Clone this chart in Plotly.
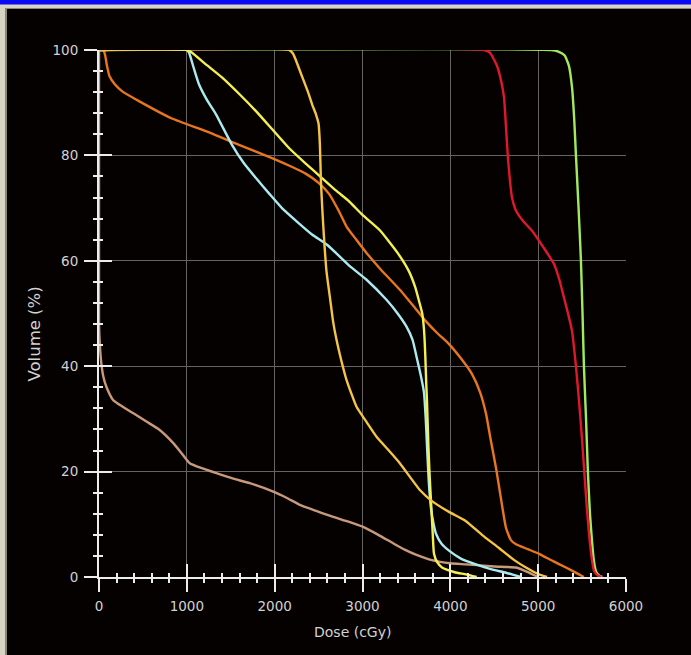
import plotly.graph_objects as go

# ---- data (dose in cGy, volume in %) ----
green_dose = [0, 5150, 5230, 5300, 5350, 5385, 5410, 5430, 5460, 5487, 5505, 5521, 5545, 5566, 5590, 5612, 5635, 5660, 5700, 5730]
green_vol  = [100, 100, 99.7, 99, 97, 93, 87, 80, 70, 60, 50, 40, 30, 20, 12, 7, 3, 1, 0.2, 0]

red_dose = [0, 4383, 4450, 4531, 4580, 4611, 4635, 4656, 4680, 4702, 4748, 4830, 4930, 5066, 5180, 5240, 5294, 5340, 5385, 5430, 5465, 5500, 5522, 5555, 5580, 5610, 5636, 5680, 5720]
red_vol  = [100, 100, 99.5, 97, 94, 91, 85, 79.5, 75, 72, 69.5, 67.5, 65.7, 62.4, 59.4, 56.5, 53, 50, 46.7, 40, 33.4, 26, 20.7, 13, 8, 3.5, 1.2, 0.3, 0]

tan_dose = [0, 0, 10, 27, 50, 84, 160, 270, 387, 540, 691, 846, 940, 1033, 1180, 1337, 1520, 1716, 1985, 2140, 2286, 2480, 2667, 2840, 3007, 3180, 3349, 3480, 3615, 3791, 4000, 4178, 4500, 4748, 4900, 5000]
tan_vol  = [100, 48.2, 44, 40.5, 38, 36.1, 33.6, 32.3, 31.1, 29.5, 27.9, 25.4, 23.5, 21.6, 20.6, 19.7, 18.7, 17.8, 16.2, 15, 13.7, 12.5, 11.4, 10.5, 9.5, 8, 6.4, 5.2, 4.2, 3.2, 2.6, 2.4, 2, 1.8, 0.8, 0]

orange_dose = [0, 50, 70, 91, 120, 180, 262, 455, 831, 1218, 1594, 1970, 2200, 2357, 2500, 2619, 2732, 2818, 2930, 3046, 3200, 3425, 3600, 3723, 3850, 3985, 4120, 4247, 4340, 4406, 4460, 4520, 4580, 4634, 4690, 4748, 4880, 5010, 5170, 5317, 5465, 5520]
orange_vol  = [100, 100, 99, 97, 95, 93.5, 92.2, 90.3, 87, 84.6, 82, 79.5, 77.8, 76.5, 74.8, 72.7, 69.4, 66.5, 64, 61.5, 58.5, 54.5, 51, 48.5, 46.3, 44.2, 41.5, 38.5, 35, 31, 26, 20.7, 14.5, 9.3, 7, 6.2, 5.3, 4.4, 3, 1.8, 0.5, 0]

cyan_dose = [0, 1000, 1025, 1080, 1138, 1230, 1332, 1514, 1650, 1787, 1940, 2083, 2250, 2425, 2600, 2855, 3040, 3273, 3400, 3501, 3570, 3615, 3660, 3700, 3720, 3734, 3755, 3780, 3810, 3837, 3900, 3985, 4120, 4292, 4460, 4634, 4800]
cyan_vol  = [100, 100, 99.5, 96.5, 93.5, 90.5, 87.8, 82, 78.5, 75.7, 72.7, 70, 67.5, 65, 63, 59, 56.5, 52.6, 50, 47.5, 45, 41.8, 38.5, 35, 30, 25, 18, 13, 10, 8.2, 6.3, 5, 3.5, 2.4, 1.5, 0.8, 0]

yellow_dose = [0, 1000, 1060, 1200, 1400, 1600, 1787, 1970, 2163, 2350, 2539, 2700, 2846, 3000, 3197, 3400, 3529, 3600, 3643, 3680, 3700, 3715, 3725, 3734, 3750, 3765, 3780, 3800, 3814, 3850, 3905, 4050, 4178, 4300]
yellow_vol  = [100, 100, 99.5, 97.5, 94.8, 91.6, 88.4, 85, 81.4, 78.5, 75.7, 73.3, 71.3, 68.7, 65.8, 61.5, 58, 55, 52.4, 50, 47, 42, 37, 33.4, 25, 19, 14.4, 8, 4.4, 2.8, 1.8, 0.9, 0.5, 0]

gold_dose = [0, 2163, 2210, 2243, 2300, 2380, 2430, 2470, 2500, 2515, 2527, 2545, 2562, 2590, 2628, 2665, 2704, 2760, 2818, 2880, 2932, 3050, 3160, 3300, 3425, 3540, 3653, 3791, 3980, 4178, 4360, 4554, 4720, 4861, 5010, 5100]
gold_vol  = [100, 100, 99.3, 98, 95.5, 92, 89.5, 87.8, 86, 82, 75, 69, 64.3, 58, 53.2, 48.5, 45, 41, 37.4, 34.5, 32.3, 29.3, 26.6, 24, 21.6, 19, 16.5, 14.4, 12.4, 10.6, 8, 5.5, 3.3, 1.8, 0.5, 0]

series = [
    ("green", green_dose, green_vol, "#a2ea5c"),
    ("red", red_dose, red_vol, "#e0182c"),
    ("tan", tan_dose, tan_vol, "#c89a7c"),
    ("orange", orange_dose, orange_vol, "#e8761e"),
    ("cyan", cyan_dose, cyan_vol, "#aaeaf0"),
    ("yellow", yellow_dose, yellow_vol, "#f4f050"),
    ("gold", gold_dose, gold_vol, "#f4c444"),
]

x_ticks = [0, 1000, 2000, 3000, 4000, 5000, 6000]
y_ticks = [0, 20, 40, 60, 80, 100]

FONT = "DejaVu Sans, Verdana, sans-serif"
TXT = "#d2d2d2"
AX = "#ececec"
BG = "#060101"
GRID = "#646464"

fig = go.Figure()
for name, xd, yd, col in series:
    fig.add_trace(go.Scatter(x=xd, y=yd, mode="lines", name=name,
                             line=dict(color=col, width=2.4, shape="spline", smoothing=0.5),
                             showlegend=False))
# invisible trace that activates the overlay axes (inner half of the crossing ticks)
fig.add_trace(go.Scatter(x=[0], y=[0], xaxis="x2", yaxis="y2", mode="markers",
                         marker=dict(opacity=0), hoverinfo="skip", showlegend=False))

W, H = 691, 655
L, R, T, B = 99, 65, 50, 78
PW, PH = W - L - R, H - T - B

tickfont = dict(family=FONT, size=13.5, color=TXT)
common_tick = dict(ticks="outside", ticklen=13, tickwidth=2, tickcolor=AX)
fig.update_layout(
    width=W, height=H,
    paper_bgcolor=BG, plot_bgcolor=BG,
    margin=dict(l=L, r=R, t=T, b=B),
    xaxis=dict(range=[0, 6000], tickvals=x_ticks, showgrid=True, gridcolor=GRID, gridwidth=1,
               zeroline=False, showline=True, linecolor=AX, linewidth=2, **common_tick,
               minor=dict(dtick=200, ticks="outside", ticklen=4, tickwidth=2, tickcolor=AX, showgrid=False),
               tickfont=tickfont, ticklabelstandoff=3),
    yaxis=dict(range=[0, 100], tickvals=y_ticks, showgrid=True, gridcolor=GRID, gridwidth=1,
               zeroline=False, showline=True, linecolor=AX, linewidth=2, **common_tick,
               minor=dict(dtick=4, ticks="outside", ticklen=4, tickwidth=2, tickcolor=AX, showgrid=False),
               tickfont=tickfont, ticklabelstandoff=3),
    xaxis2=dict(range=[0, 6000], overlaying="x", anchor="y", tickvals=x_ticks, showticklabels=False,
                showgrid=False, zeroline=False, ticks="inside", ticklen=13, tickwidth=2, tickcolor=AX,
                minor=dict(dtick=200, ticks="inside", ticklen=4, tickwidth=2, tickcolor=AX)),
    yaxis2=dict(range=[0, 100], overlaying="y", anchor="x", tickvals=y_ticks, showticklabels=False,
                showgrid=False, zeroline=False, ticks="inside", ticklen=13, tickwidth=2, tickcolor=AX,
                minor=dict(dtick=4, ticks="inside", ticklen=4, tickwidth=2, tickcolor=AX)),
    annotations=[
        dict(text="Dose (cGy)", xref="paper", yref="paper", x=(352 - L) / PW, y=-(631.5 - T - PH) / PH,
             showarrow=False, xanchor="center", yanchor="middle",
             font=dict(family=FONT, size=14, color=TXT)),
        dict(text="Volume (%)", xref="paper", yref="paper", x=(34.5 - L) / PW, y=(T + PH - 334) / PH,
             showarrow=False, xanchor="center", yanchor="middle", textangle=-90,
             font=dict(family=FONT, size=16.5, color=TXT)),
    ],
)

def px_rect(x0, y0, x1, y1, color):
    # rectangle given in page pixels, converted to paper coordinates
    fig.add_shape(type="rect", xref="paper", yref="paper",
                  x0=(x0 - L) / PW, x1=(x1 - L) / PW,
                  y0=(T + PH - y1) / PH, y1=(T + PH - y0) / PH,
                  fillcolor=color, line=dict(width=0), layer="above")

# window frame: blue title strip, beige frame at top and left
px_rect(0, 4, W, 9, "#d8d4c4")
px_rect(0, 8, W, 9, "#8a8678")
px_rect(0, 0, 5, H, "#d8d4c4")
px_rect(5, 8, 7, H, "#8a8678")
px_rect(0, 0, W, 4.5, "#0808f2")

fig.write_html("out.html", config={"displayModeBar": False},
               post_script="document.body.style.margin='0';")
